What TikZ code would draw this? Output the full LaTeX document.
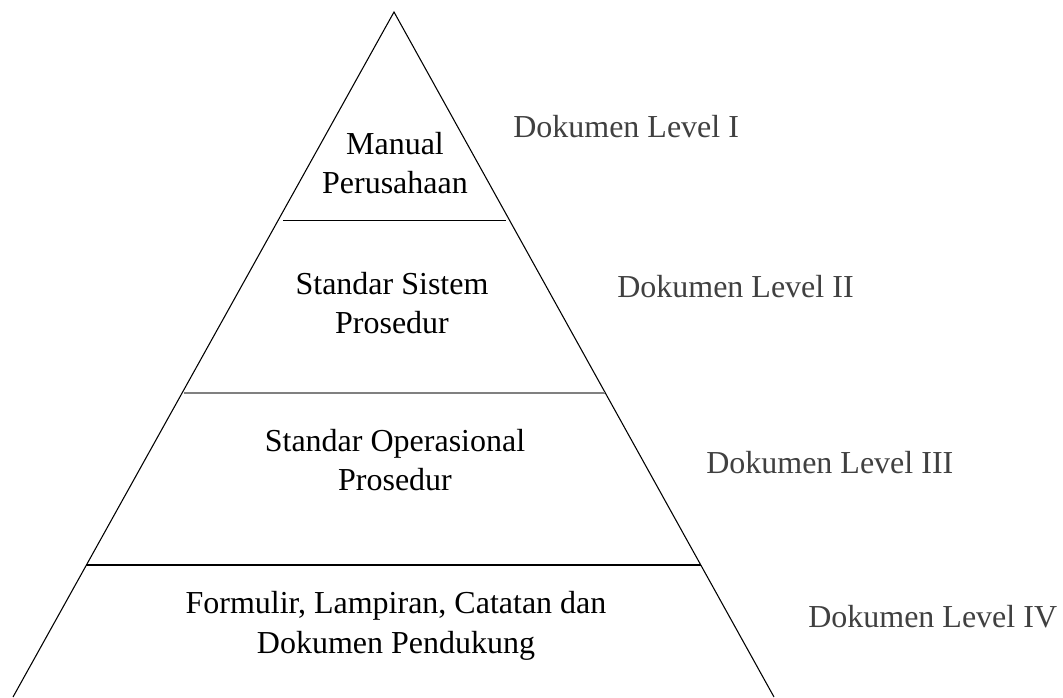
\documentclass[tikz,border=0pt]{standalone}
\usepackage{fontspec}
\setmainfont{Liberation Serif}
\begin{document}
\begin{tikzpicture}[x=0.75pt,y=-0.75pt,
  tier/.style={align=center,font=\fontsize{24}{29.5}\selectfont,text=black,inner sep=0pt},
  level/.style={anchor=west,font=\fontsize{24}{29.5}\selectfont,text={rgb,255:red,64;green,64;blue,64},inner sep=0pt},
  edge/.style={line width=0.8pt,draw=black}]
\useasboundingbox (0,0) rectangle (1063,697);
% pyramid outline
\coordinate (apex) at (394,12);
\coordinate (bl) at (13,697);
\coordinate (br) at (774,697);
\draw[edge] (bl) -- (apex) -- (br);
% tier dividers
\draw[edge] (283,220.5) -- (506,220.5);
\draw[line width=1.3pt,draw={rgb,255:red,128;green,128;blue,128}] (184,393) -- (605,393);
\draw[edge] (86,565) -- (701,565);
% tier texts
\node[tier] (t1) at (395,163) {Manual\\Perusahaan};
\node[tier] (t2) at (392,303) {Standar Sistem\\Prosedur};
\node[tier] (t3) at (395,460) {Standar Operasional\\Prosedur};
\node[tier] (t4) at (396,626) {Formulir, Lampiran, Catatan dan\\Dokumen Pendukung};
% level labels
\node[level] (l1) at (513,127) {Dokumen Level I};
\node[level] (l2) at (617,287) {Dokumen Level II};
\node[level] (l3) at (706,463) {Dokumen Level III};
\node[level] (l4) at (808,617) {Dokumen Level IV};
\end{tikzpicture}
\end{document}
